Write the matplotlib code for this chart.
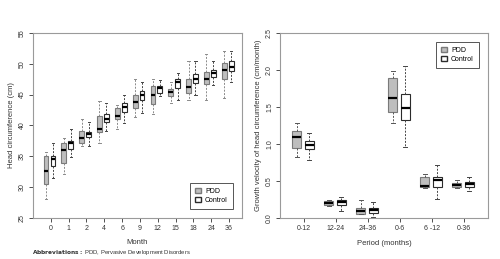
import matplotlib
matplotlib.use("Agg")
import matplotlib.pyplot as plt
from matplotlib.patches import Patch

plt.rcParams['font.family'] = ['Liberation Sans', 'DejaVu Sans']

# left panel: head circumference by month
months = ['0', '1', '2', '4', '6', '9', '12', '15', '18', '24', '36']
pdd_hc = {
    'whislo': [28.1, 32.1, 36.6, 37.1, 39.4, 41.3, 41.9, 43.6, 44.2, 44.1, 44.5],
    'q1':     [30.6, 34.0, 37.1, 39.0, 41.0, 42.9, 43.5, 44.8, 45.2, 46.8, 47.5],
    'med':    [32.6, 36.0, 38.0, 39.5, 41.5, 43.8, 44.9, 45.4, 46.2, 47.6, 49.0],
    'q3':     [35.0, 37.2, 39.1, 41.5, 42.9, 45.0, 46.4, 45.9, 47.6, 48.7, 50.1],
    'whishi': [35.7, 38.0, 41.0, 44.0, 43.3, 47.5, 47.6, 47.0, 50.4, 51.5, 52.0],
}
ctl_hc = {
    'whislo': [31.5, 34.9, 36.6, 39.1, 40.4, 42.0, 44.8, 44.2, 44.9, 46.5, 47.1],
    'q1':     [33.5, 36.2, 38.1, 40.6, 42.2, 44.1, 45.3, 46.0, 46.9, 47.8, 48.9],
    'med':    [34.5, 37.1, 38.6, 41.1, 43.0, 44.9, 46.0, 47.0, 47.5, 48.5, 49.4],
    'q3':     [35.0, 37.5, 39.0, 41.9, 43.6, 45.6, 46.4, 47.6, 48.4, 49.0, 50.5],
    'whishi': [37.1, 39.5, 40.6, 43.6, 45.0, 47.0, 47.4, 48.5, 50.4, 50.5, 52.0],
}

# right panel: growth velocity by period
periods = ['0-12', '12-24', '24-36', '0-6', '6 -12', '0-36']
pdd_gv = {
    'whislo': [0.83, 0.16, 0.05, 1.29, 0.41, 0.41],
    'q1':     [0.94, 0.17, 0.06, 1.43, 0.42, 0.42],
    'med':    [1.09, 0.20, 0.10, 1.62, 0.43, 0.45],
    'q3':     [1.17, 0.23, 0.13, 1.89, 0.55, 0.47],
    'whishi': [1.28, 0.25, 0.24, 1.98, 0.59, 0.52],
}
ctl_gv = {
    'whislo': [0.79, 0.09, 0.02, 0.96, 0.26, 0.36],
    'q1':     [0.93, 0.17, 0.07, 1.33, 0.42, 0.42],
    'med':    [0.98, 0.22, 0.11, 1.49, 0.51, 0.46],
    'q3':     [1.04, 0.25, 0.14, 1.67, 0.55, 0.49],
    'whishi': [1.15, 0.29, 0.22, 2.05, 0.72, 0.55],
}

PDD_FILL = '#bebebe'
PDD_EDGE = '#7a7a7a'
CTL_EDGE = '#2b2b2b'
FRAME = '#9a9a9a'
TXT = '#333333'


def to_stats(d):
    return [dict(whislo=d['whislo'][i], q1=d['q1'][i], med=d['med'][i],
                 q3=d['q3'][i], whishi=d['whishi'][i], fliers=[])
            for i in range(len(d['med']))]


def draw_boxes(ax, d, pos, width, fill, edge, wcol):
    ax.bxp(to_stats(d), positions=pos, widths=width, patch_artist=True,
           showfliers=False, capwidths=width * 0.45,
           boxprops=dict(facecolor=fill, edgecolor=edge, linewidth=0.8),
           medianprops=dict(color='black', linewidth=1.6),
           whiskerprops=dict(color=wcol, linewidth=0.7, linestyle=(0, (2, 1.5))),
           capprops=dict(color=wcol, linewidth=0.7))


def style_axes(ax):
    for s in ax.spines.values():
        s.set_color(FRAME)
        s.set_linewidth(0.8)
    ax.tick_params(colors=TXT, labelsize=5, length=3, width=0.6, pad=2)
    ax.tick_params(axis='y', labelrotation=90)
    for lab in ax.get_yticklabels():
        lab.set_verticalalignment('center')


def add_legend(ax, loc, anchor):
    handles = [Patch(facecolor=PDD_FILL, edgecolor=PDD_EDGE, label='PDD'),
               Patch(facecolor='white', edgecolor=CTL_EDGE, label='Control')]
    leg = ax.legend(handles=handles, loc=loc, bbox_to_anchor=anchor, fontsize=5,
                    frameon=True, fancybox=False, framealpha=1,
                    handlelength=0.8, handleheight=0.8, handletextpad=0.6,
                    borderpad=0.7, labelspacing=0.25, borderaxespad=0)
    leg.get_frame().set_edgecolor('#555555')
    leg.get_frame().set_linewidth(0.7)


fig = plt.figure(figsize=(5.0, 2.59), dpi=100)

ax1 = fig.add_axes([0.066, 0.158, 0.418, 0.715])
x1 = list(range(len(months)))
draw_boxes(ax1, pdd_hc, [x - 0.27 for x in x1], 0.27, PDD_FILL, PDD_EDGE, '#8a8a8a')
draw_boxes(ax1, ctl_hc, [x + 0.12 for x in x1], 0.27, 'white', CTL_EDGE, '#444444')
ax1.set_xlim(-1.0, 10.73)
ax1.set_ylim(25, 55)
ax1.set_xticks(x1)
ax1.set_xticklabels(months)
ax1.set_yticks([25, 30, 35, 40, 45, 50, 55])
style_axes(ax1)
ax1.set_xlabel('Month', fontsize=5.5, color=TXT, labelpad=5)
ax1.set_ylabel('Head circumference (cm)', fontsize=5.5, color=TXT, labelpad=3)
add_legend(ax1, 'lower right', (0.955, 0.05))

ax2 = fig.add_axes([0.56, 0.158, 0.416, 0.715])
x2 = list(range(len(periods)))
draw_boxes(ax2, pdd_gv, [x - 0.23 for x in x2], 0.28, PDD_FILL, PDD_EDGE, '#555555')
draw_boxes(ax2, ctl_gv, [x + 0.17 for x in x2], 0.28, 'white', CTL_EDGE, '#444444')
ax2.set_xlim(-0.75, 5.75)
ax2.set_ylim(0, 2.5)
ax2.set_xticks(x2)
ax2.set_xticklabels(periods)
ax2.set_yticks([0.0, 0.5, 1.0, 1.5, 2.0, 2.5])
ax2.set_yticklabels(['0.0', '0.5', '1.0', '1.5', '2.0', '2.5'])
style_axes(ax2)
ax2.set_xlabel('Period (months)', fontsize=5.5, color=TXT, labelpad=6)
ax2.set_ylabel('Growth velocity of head circumference (cm/month)', fontsize=5.5,
               color=TXT, labelpad=3)
add_legend(ax2, 'upper right', (0.955, 0.95))

fig.text(0.064, 0.02, r'$\bf{Abbreviations:}$ PDD, Pervasive Development Disorders',
         fontsize=4.2, color=TXT)

fig.savefig('out.png', dpi=100)
